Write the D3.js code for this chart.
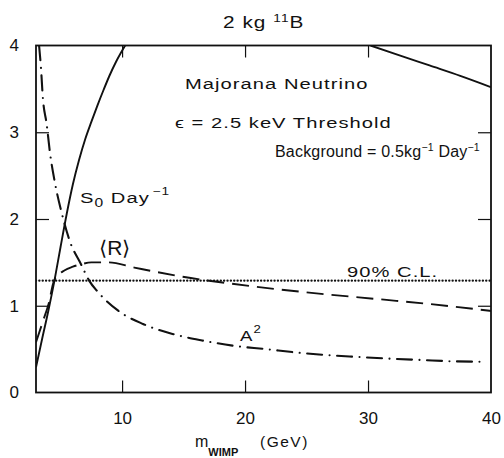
<!DOCTYPE html>
<html>
<head>
<meta charset="utf-8">
<script src="https://cdn.jsdelivr.net/npm/d3@7"></script>
<style>
  html, body { margin: 0; padding: 0; background: #fff; }
  svg { display: block; }
  text { font-family: "Liberation Sans", Arial, sans-serif; fill: #111; }
</style>
</head>
<body>
<svg id="chart" width="504" height="458"></svg>
<script>
// WIMP mass (GeV) against rate, 2 kg of 11B, Majorana neutrino case
const xTickValues = [10, 20, 30, 40];
const xTickLabels = ["10", "20", "30", "40"];
const yTickValues = [0, 1, 2, 3, 4];
const yTickLabels = ["0", "1", "2", "3", "4"];

// S0 Day^-1 (solid); leaves the top of the frame near 10 GeV, returns near 30 GeV
const s0Low = [
  [3.0, 0.29], [3.5, 0.62], [4.0, 0.94], [4.5, 1.29], [5.0, 1.68],
  [5.5, 2.06], [6.0, 2.40], [6.5, 2.68], [7.0, 2.92], [7.5, 3.12],
  [8.0, 3.31], [8.5, 3.49], [9.0, 3.66], [9.5, 3.81], [10.25, 4.0]
];
const s0High = [[30.2, 4.0], [32.5, 3.89], [35.0, 3.77], [37.5, 3.65], [40.0, 3.52]];

// <R> (dashed)
const rMean = [
  [3.0, 0.58], [3.56, 0.82], [4.04, 1.03], [4.47, 1.29], [5.34, 1.41],
  [6.0, 1.45], [6.7, 1.48], [7.5, 1.50], [8.9, 1.50], [11.0, 1.44],
  [14.7, 1.34], [20.85, 1.22], [26.0, 1.14], [31.3, 1.07], [35.0, 1.02], [40.0, 0.94]
];

// A^2 (dash-dot)
const aSquared = [
  [3.25, 4.0], [3.41, 3.73], [3.55, 3.41], [3.87, 3.09], [4.14, 2.76],
  [4.55, 2.41], [5.09, 2.07], [5.71, 1.76], [6.69, 1.47], [7.32, 1.29],
  [8.03, 1.16], [9.71, 0.94], [11.7, 0.79], [14.1, 0.675], [16.5, 0.60],
  [19.0, 0.54], [21.7, 0.50], [24.25, 0.46], [26.8, 0.43], [29.2, 0.41],
  [31.8, 0.39], [34.35, 0.375], [36.8, 0.36], [39.2, 0.355]
];

// 90% confidence level
const clLevel = 1.29;

const svg = d3.select("#chart");
const x = d3.scaleLinear().domain([3, 40]).range([36, 491]);
const y = d3.scaleLinear().domain([0, 4]).range([392.5, 45.5]);

svg.append("defs").append("clipPath").attr("id", "plotArea")
  .append("rect")
  .attr("x", x(3)).attr("y", y(4))
  .attr("width", x(40) - x(3)).attr("height", y(0) - y(4));

// inward ticks on all four sides
const inner = [10, 20, 30];
const innerY = [1, 2, 3];
svg.append("g").attr("transform", `translate(0,${y(0)})`)
  .call(d3.axisBottom(x).tickValues(inner).tickSize(-12).tickFormat(""));
svg.append("g").attr("transform", `translate(0,${y(4)})`)
  .call(d3.axisTop(x).tickValues(inner).tickSize(-12).tickFormat(""));
svg.append("g").attr("transform", `translate(${x(3)},0)`)
  .call(d3.axisLeft(y).tickValues(innerY).tickSize(-13).tickFormat(""));
svg.append("g").attr("transform", `translate(${x(40)},0)`)
  .call(d3.axisRight(y).tickValues(innerY).tickSize(-13).tickFormat(""));
svg.selectAll(".domain").remove();
svg.selectAll(".tick line").attr("stroke", "#111").attr("stroke-width", 1.2);

// tick labels
const xLab = svg.append("g").attr("transform", `translate(0,${y(0)})`)
  .call(d3.axisBottom(x).tickValues(xTickValues).tickSize(0).tickPadding(19)
    .tickFormat((d, i) => xTickLabels[i]));
const yLab = svg.append("g").attr("transform", `translate(${x(3)},0)`)
  .call(d3.axisLeft(y).tickValues(yTickValues).tickSize(0).tickPadding(17)
    .tickFormat((d, i) => yTickLabels[i]));
[xLab, yLab].forEach(g => {
  g.select(".domain").remove();
  g.selectAll("text").style("font-family", "'Liberation Sans', Arial, sans-serif")
    .style("font-size", "17px").attr("fill", "#111");
});

// frame
svg.append("rect")
  .attr("x", x(3)).attr("y", y(4))
  .attr("width", x(40) - x(3)).attr("height", y(0) - y(4))
  .attr("fill", "none").attr("stroke", "#111").attr("stroke-width", 1.8);

const line = d3.line().x(d => x(d[0])).y(d => y(d[1])).curve(d3.curveMonotoneX);
const plot = svg.append("g").attr("clip-path", "url(#plotArea)");

plot.append("line")
  .attr("x1", x(3)).attr("x2", x(40)).attr("y1", y(clLevel)).attr("y2", y(clLevel))
  .attr("stroke", "#111").attr("stroke-width", 2.4)
  .attr("stroke-linecap", "round").attr("stroke-dasharray", "0.01,3.35");

[s0Low, s0High].forEach(seg => plot.append("path").datum(seg).attr("d", line)
  .attr("fill", "none").attr("stroke", "#111").attr("stroke-width", 1.9));

plot.append("path").datum(rMean).attr("d", line)
  .attr("fill", "none").attr("stroke", "#111").attr("stroke-width", 1.9)
  .attr("stroke-dasharray", "17,8");

plot.append("path").datum(aSquared).attr("d", line)
  .attr("fill", "none").attr("stroke", "#111").attr("stroke-width", 2.1)
  .attr("stroke-linecap", "round").attr("stroke-dasharray", "15,7.5,0.01,7.5");

// lettered annotations: slightly widened glyphs
function lettering(px, py, runs, size = 15.5, sx = 1.3, ls = 0.8) {
  const g = svg.append("g").attr("transform", `translate(${px},${py}) scale(${sx},1)`);
  const t = g.append("text").attr("x", 0).attr("y", 0)
    .style("font-size", size + "px").style("letter-spacing", ls + "px");
  let shift = 0;
  runs.forEach(r => {
    const s = t.append("tspan").text(r.t);
    const target = r.dy || 0;
    if (target !== shift) { s.attr("dy", target - shift); shift = target; }
    if (r.size) s.style("font-size", r.size + "px");
    if (r.weight) s.style("font-weight", r.weight);
    if (r.dx) s.attr("dx", r.dx);
  });
  return t;
}

lettering(223, 28, [{ t: "2 kg " }, { t: "11", dy: -6, size: 10.5 }, { t: "B", dy: 0 }], 16);
lettering(185, 89, [{ t: "Majorana Neutrino" }]);
lettering(175, 128, [{ t: "ϵ = 2.5 keV Threshold" }]);
lettering(275, 157, [
  { t: "Background = 0.5kg" }, { t: "−1", dy: -6, size: 10.5 },
  { t: " Day", dy: 0 }, { t: "−1", dy: -6, size: 10.5 }
], 16, 1.0, 0.2);
lettering(80, 203, [
  { t: "S" }, { t: "0", dy: 4, size: 12 }, { t: " Day", dy: 0 }, { t: "−1", dy: -8, size: 10.5, dx: 2 }
]);
lettering(99, 255, [{ t: "⟨R⟩" }], 20, 1.05, 0);
lettering(347, 277, [{ t: "90% C.L." }]);
lettering(240, 341, [{ t: "A" }, { t: "2", dy: -8, size: 11 }], 15.5, 1.2, 1);

// x axis title
const xt = svg.append("text").attr("x", 195).attr("y", 447).style("font-size", "15.5px");
xt.append("tspan").text("m").style("font-size", "16px");
xt.append("tspan").text("WIMP").attr("dy", 9).style("font-size", "11px").style("font-weight", "bold");
xt.append("tspan").text("(GeV)").attr("x", 260).attr("dy", -9).style("letter-spacing", "1.5px");
</script>
</body>
</html>
